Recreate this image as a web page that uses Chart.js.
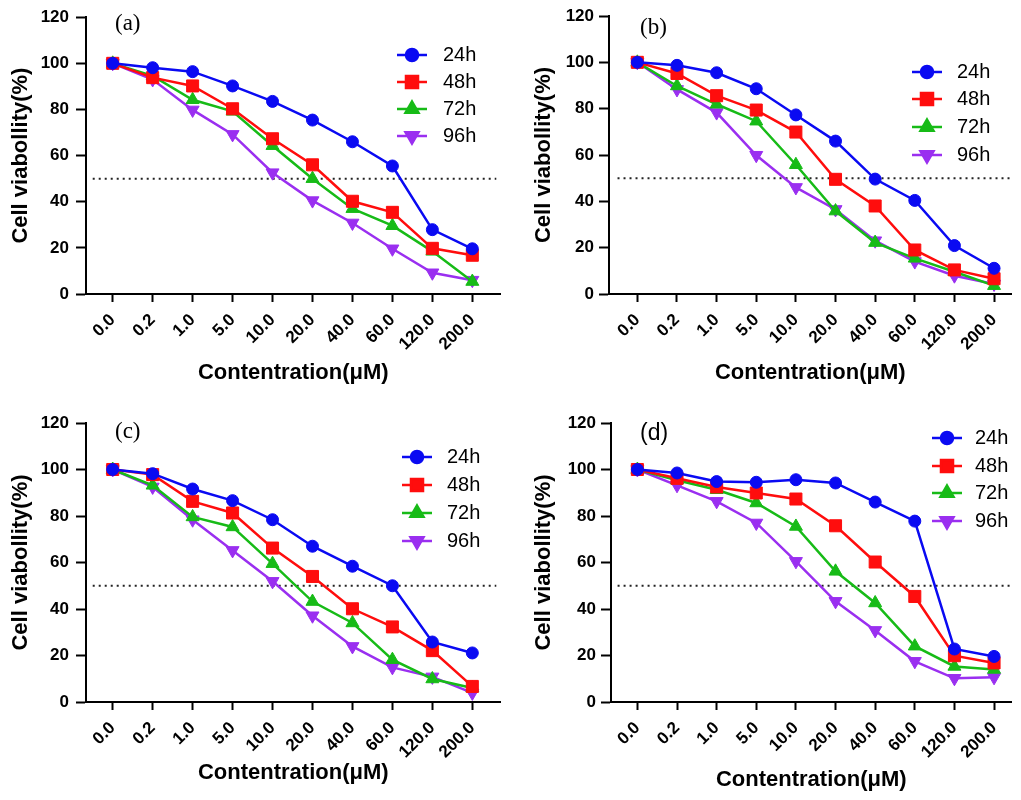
<!DOCTYPE html>
<html>
<head>
<meta charset="utf-8">
<title>Cell viability</title>
<script src="https://cdn.jsdelivr.net/npm/chart.js@4.4.0/dist/chart.umd.min.js"></script>
<style>
  html, body { margin: 0; padding: 0; background: #fff; }
  #wrap { position: relative; width: 1021px; height: 800px; overflow: hidden; }
  .panel { position: absolute; }
  canvas { display: block; }
</style>
</head>
<body>
<div id="wrap">
  <div class="panel" style="left:0;top:0"><canvas id="chartA" width="510" height="400"></canvas></div>
  <div class="panel" style="left:510px;top:0"><canvas id="chartB" width="511" height="400"></canvas></div>
  <div class="panel" style="left:0;top:400px"><canvas id="chartC" width="510" height="400"></canvas></div>
  <div class="panel" style="left:510px;top:400px"><canvas id="chartD" width="511" height="400"></canvas></div>
</div>
<script>
// --- data ---
const concLabels = ['0.0', '0.2', '1.0', '5.0', '10.0', '20.0', '40.0', '60.0', '120.0', '200.0'];
const seriesNames = ['24h', '48h', '72h', '96h'];
const yTickValues = [0, 20, 40, 60, 80, 100, 120];
const halfLine = 50;

// panel (a)
const a24 = [100, 98.1, 96.4, 90.2, 83.5, 75.4, 66.0, 55.5, 27.9, 19.6];
const a48 = [100, 93.8, 90.2, 80.3, 67.3, 56.0, 40.2, 35.4, 19.8, 16.8];
const a72 = [100, 94.5, 84.2, 79.2, 64.3, 50.0, 37.0, 29.6, 18.5, 5.4];
const a96 = [100, 93.0, 79.8, 69.2, 52.6, 40.5, 30.8, 19.6, 9.2, 6.0];

// panel (b)
const b24 = [100, 98.7, 95.5, 88.6, 77.3, 66.0, 49.6, 40.4, 20.9, 11.1];
const b48 = [100, 95.2, 85.6, 79.4, 69.9, 49.5, 38.0, 19.0, 10.4, 6.6];
const b72 = [100, 89.8, 81.9, 74.6, 55.8, 35.8, 22.2, 15.4, 9.6, 3.6];
const b96 = [100, 88.3, 78.3, 59.9, 46.0, 36.5, 23.0, 14.0, 7.9, 4.3];

// panel (c)
const c24 = [100, 98.2, 91.6, 86.6, 78.4, 67.0, 58.4, 50.0, 25.8, 21.1];
const c48 = [100, 97.8, 86.3, 81.3, 66.2, 54.0, 40.1, 32.3, 22.1, 6.7];
const c72 = [100, 93.2, 79.6, 75.3, 59.5, 43.2, 34.0, 18.2, 9.9, 6.0];
const c96 = [100, 92.5, 78.4, 65.2, 51.9, 37.1, 23.9, 14.9, 10.8, 3.9];

// panel (d)
const d24 = [100, 98.5, 94.8, 94.5, 95.6, 94.2, 86.0, 77.8, 22.8, 19.6];
const d48 = [100, 96.2, 92.5, 89.9, 87.3, 75.8, 60.2, 45.4, 19.9, 16.8];
const d72 = [100, 95.4, 91.3, 85.6, 75.5, 56.2, 42.6, 24.0, 15.3, 14.0];
const d96 = [100, 93.2, 86.3, 77.0, 60.5, 43.3, 30.8, 17.5, 10.2, 10.6];

// --- styling ---
const colors = ['#0a0af2', '#ff0d0d', '#17bb17', '#9a2ff0'];
const markers = ['circle', 'rect', 'triangle', 'triangle'];
const markerSize = [6, 8.5, 7.5, 7.5];
const markerRot = [0, 0, 0, 180];
const sansFont = "'Liberation Sans', Arial, sans-serif";
const serifFont = "'Liberation Serif', 'Times New Roman', serif";

Chart.defaults.font.family = sansFont;
Chart.defaults.color = '#000';

// draws the "(a)" tag and the little legend inside the plot
const panelDecor = {
    id: 'panelDecor',
    afterDraw(chart, args, opts) {
        const ctx = chart.ctx;
        ctx.save();
        ctx.fillStyle = '#000';
        ctx.textBaseline = 'middle';
        ctx.textAlign = 'left';
        ctx.font = '23px ' + opts.tagFont;
        ctx.fillText(opts.tag, opts.tagX, opts.tagY);

        ctx.font = '20px ' + sansFont;
        opts.rows.forEach(function(y, i) {
            const x0 = opts.lineX;
            ctx.strokeStyle = colors[i];
            ctx.lineWidth = 2.5;
            ctx.beginPath();
            ctx.moveTo(x0, y);
            ctx.lineTo(x0 + 30, y);
            ctx.stroke();
            ctx.fillStyle = colors[i];
            Chart.helpers.drawPoint(ctx, {
                pointStyle: markers[i],
                radius: markerSize[i],
                rotation: markerRot[i],
                borderWidth: 1
            }, x0 + 15, y);
            ctx.fillStyle = '#000';
            ctx.fillText(seriesNames[i], opts.textX, y);
        });
        ctx.restore();
    }
};

function makePanel(id, sets, p) {
    const canvas = document.getElementById(id);
    const W = canvas.width, H = canvas.height;

    const datasets = sets.map(function(vals, i) {
        return {
            label: seriesNames[i],
            data: vals.map(function(v, k) { return { x: k, y: v }; }),
            borderColor: colors[i],
            backgroundColor: colors[i],
            borderWidth: 2.5,
            pointStyle: markers[i],
            pointRadius: markerSize[i],
            pointRotation: markerRot[i],
            pointBorderWidth: 1,
            tension: 0
        };
    });
    // dotted 50% line
    datasets.push({
        label: 'IC50',
        data: [{ x: -0.5, y: halfLine }, { x: 9.6, y: halfLine }],
        borderColor: '#222',
        borderWidth: 2,
        borderDash: [2, 4],
        pointRadius: 0,
        tension: 0
    });

    return new Chart(canvas, {
        type: 'line',
        data: { datasets: datasets },
        options: {
            responsive: false,
            animation: false,
            devicePixelRatio: 1,
            layout: { padding: { left: 0, top: p.top, right: W - p.right, bottom: 0 } },
            plugins: {
                legend: { display: false },
                tooltip: { enabled: false },
                panelDecor: p.decor
            },
            scales: {
                x: {
                    type: 'linear',
                    min: p.xmin,
                    max: p.xmax,
                    afterBuildTicks: function(s) {
                        s.ticks = concLabels.map(function(_, i) { return { value: i }; });
                    },
                    afterFit: function(s) { s.height = H - p.bottom; },
                    border: { display: true, color: '#000', width: 2 },
                    grid: { drawOnChartArea: false, drawTicks: true, tickLength: 8, tickWidth: 2, tickColor: '#000' },
                    ticks: {
                        autoSkip: false,
                        minRotation: 45,
                        maxRotation: 45,
                        padding: 8,
                        font: { size: 17, weight: 'bold' },
                        callback: function(v) { return concLabels[v]; }
                    },
                    title: {
                        display: true,
                        text: 'Contentration(μM)',
                        font: { size: 22, weight: 'bold' },
                        padding: { top: 0, bottom: p.xTitlePad }
                    }
                },
                y: {
                    min: 0,
                    max: 120,
                    afterBuildTicks: function(s) {
                        s.ticks = yTickValues.map(function(v) { return { value: v }; });
                    },
                    afterFit: function(s) { s.width = p.left; },
                    border: { display: true, color: '#000', width: 2 },
                    grid: { drawOnChartArea: false, drawTicks: true, tickLength: 10, tickWidth: 2, tickColor: '#000' },
                    ticks: {
                        padding: p.yTickPad,
                        font: { size: 17, weight: 'bold' }
                    },
                    title: {
                        display: true,
                        text: 'Cell viabollity(%)',
                        font: { size: 22, weight: 'bold' },
                        padding: { top: p.yTitlePad, bottom: 0 }
                    }
                }
            }
        },
        plugins: [panelDecor]
    });
}

makePanel('chartA', [a24, a48, a72, a96], {
    left: 86, right: 505, top: 16, bottom: 294, xmin: -0.668, xmax: 9.705,
    yTickPad: 7, yTitlePad: 8, xTitlePad: 14,
    decor: { tag: '(a)', tagFont: serifFont, tagX: 115, tagY: 24, lineX: 397, textX: 443, rows: [55, 82, 109, 136] }
});
makePanel('chartB', [b24, b48, b72, b96], {
    left: 99, right: 511, top: 16, bottom: 294, xmin: -0.715, xmax: 9.44,
    yTickPad: 5, yTitlePad: 21, xTitlePad: 14,
    decor: { tag: '(b)', tagFont: serifFont, tagX: 130, tagY: 28, lineX: 402, textX: 447, rows: [72, 99, 127, 155] }
});
makePanel('chartC', [c24, c48, c72, c96], {
    left: 86, right: 505, top: 23, bottom: 302, xmin: -0.668, xmax: 9.705,
    yTickPad: 7, yTitlePad: 8, xTitlePad: 14,
    decor: { tag: '(c)', tagFont: serifFont, tagX: 115, tagY: 32, lineX: 402, textX: 447, rows: [57, 85, 113, 141] }
});
makePanel('chartD', [d24, d48, d72, d96], {
    left: 101, right: 511, top: 23, bottom: 302, xmin: -0.666, xmax: 9.44,
    yTickPad: 5, yTitlePad: 21, xTitlePad: 7,
    decor: { tag: '(d)', tagFont: sansFont, tagX: 130, tagY: 34, lineX: 422, textX: 465, rows: [38, 66, 93, 121] }
});
</script>
</body>
</html>
